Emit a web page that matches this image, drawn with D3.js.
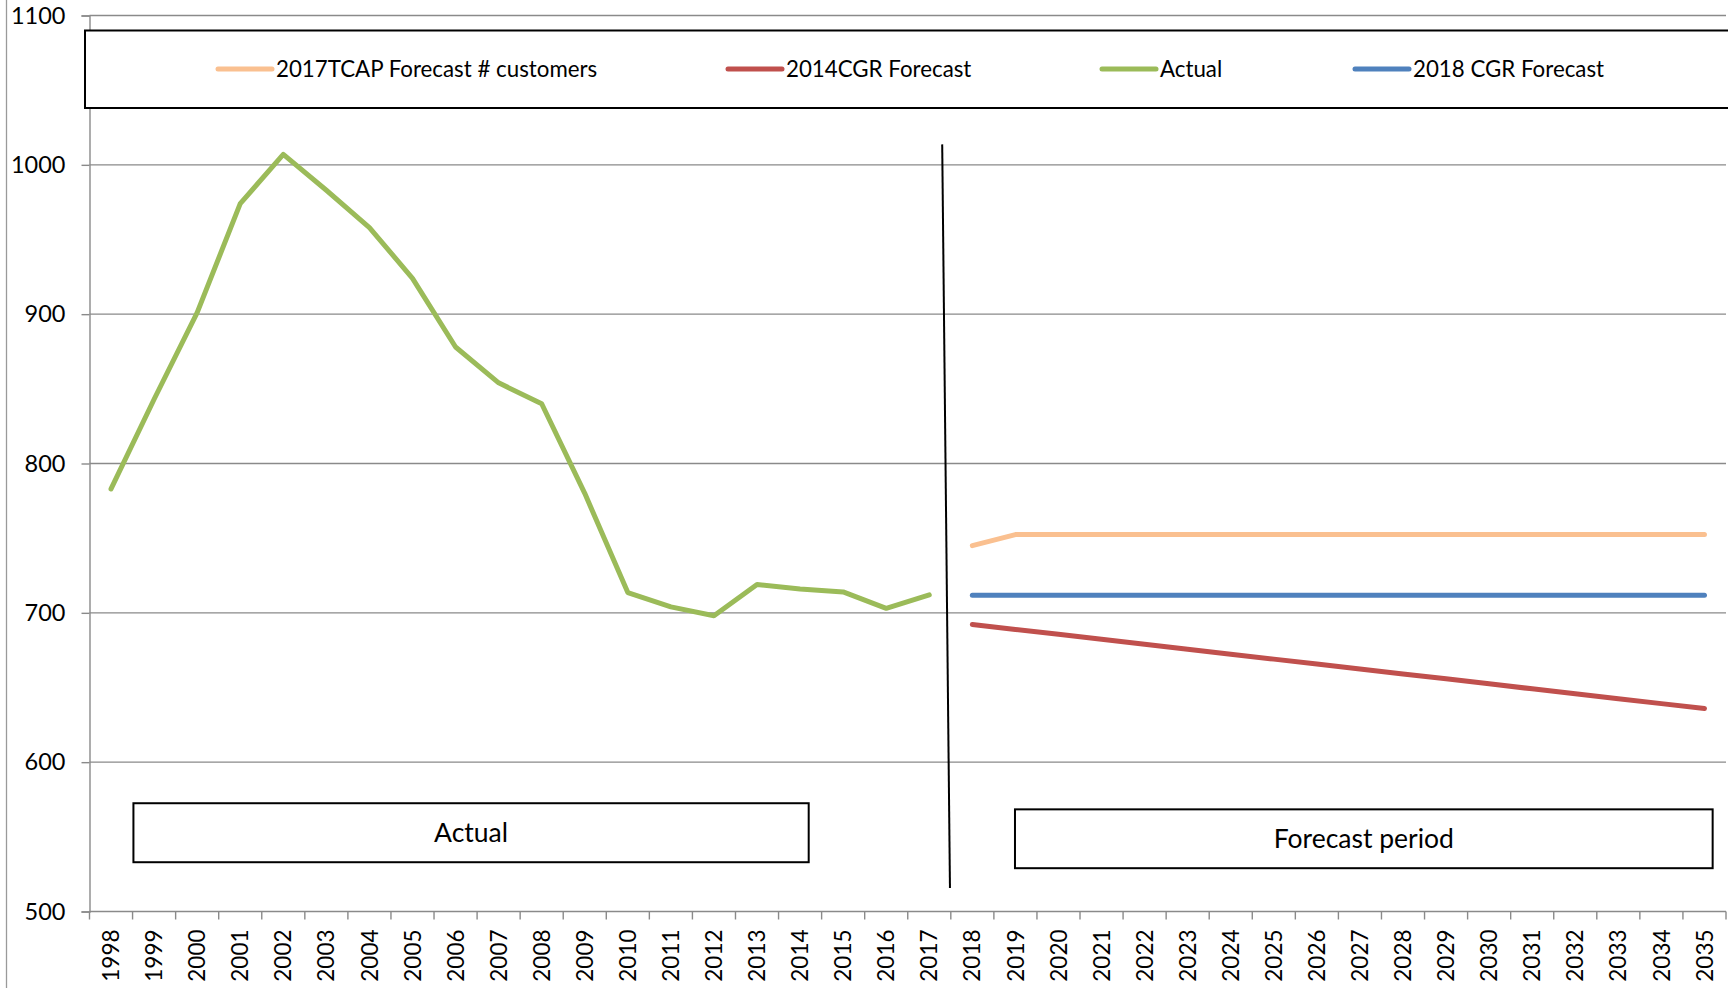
<!DOCTYPE html>
<html>
<head>
<meta charset="utf-8">
<script src="https://cdn.jsdelivr.net/npm/d3@7"></script>
<style>
  html, body { margin: 0; padding: 0; background: #fff; }
  svg { display: block; font-family: Lato, "Open Sans", sans-serif; }
</style>
</head>
<body>
<svg id="chart" width="1728" height="988"></svg>
<script>
// ---------- data ----------
const years = ["1998","1999","2000","2001","2002","2003","2004","2005","2006","2007",
  "2008","2009","2010","2011","2012","2013","2014","2015","2016","2017",
  "2018","2019","2020","2021","2022","2023","2024","2025","2026","2027",
  "2028","2029","2030","2031","2032","2033","2034","2035"];

const actualYears = years.slice(0, 20);
const actualValues = [783, 843, 901, 974, 1007, 983, 958, 924, 878, 854,
  840, 780, 713.6, 704, 698, 719, 716, 714, 703, 712];

const forecastYears = years.slice(20);
const tcap2017Values = [745, 752.4, 752.4, 752.4, 752.4, 752.4, 752.4, 752.4, 752.4,
  752.4, 752.4, 752.4, 752.4, 752.4, 752.4, 752.4, 752.4, 752.4];
const cgr2014Values = [692.2, 688.9, 685.6, 682.3, 679.0, 675.6, 672.3, 669.0, 665.7,
  662.4, 659.1, 655.8, 652.5, 649.1, 645.8, 642.5, 639.2, 635.9];
const cgr2018Values = [711.8, 711.8, 711.8, 711.8, 711.8, 711.8, 711.8, 711.8, 711.8,
  711.8, 711.8, 711.8, 711.8, 711.8, 711.8, 711.8, 711.8, 711.8];

const yTicks = [500, 600, 700, 800, 900, 1000, 1100];

const seriesNames = ["2017TCAP Forecast # customers", "2014CGR Forecast", "Actual", "2018 CGR Forecast"];
const seriesColors = ["#FAC090", "#C0504D", "#9BBB59", "#4F81BD"];

// annotation boxes in data units (category index, value)
const annotationLabels = ["Actual", "Forecast period"];
const annotationX0 = [1.02, 21.49];
const annotationX1 = [16.7, 37.69];
const annotationYTop = [572.5, 568.4];
const annotationYBottom = [533, 529];
// period separator (category index, value)
const separatorIdx = [19.80, 19.98];
const separatorVal = [1013.7, 515.7];

// ---------- layout ----------
const svg = d3.select("#chart");
const plotLeft = 89.5, plotRight = 1726, plotTop = 15.5, plotBottom = 911.5;
const gridColor = "#8a8a8a";

const x = d3.scaleBand().domain(years).range([plotLeft, plotRight]).padding(0);
const xIdx = d3.scaleLinear().domain([0, years.length]).range([plotLeft, plotRight]);
const y = d3.scaleLinear().domain([500, 1100]).range([plotBottom, plotTop]);

// outer left border
svg.append("line").attr("x1", 6.5).attr("x2", 6.5).attr("y1", 0).attr("y2", 988)
  .attr("stroke", "#9a9a9a").attr("stroke-width", 1.3);

// gridlines
svg.append("g").selectAll("line").data(yTicks.filter(d => d !== 500)).join("line")
  .attr("x1", plotLeft).attr("x2", plotRight)
  .attr("y1", d => y(d)).attr("y2", d => y(d))
  .attr("stroke", gridColor).attr("stroke-width", 1.4);

// y axis
const yAxis = d3.axisLeft(y).tickValues(yTicks).tickSize(8).tickPadding(16).tickFormat(d3.format("d"));
const gy = svg.append("g").attr("transform", `translate(${plotLeft},0)`).call(yAxis);
gy.select(".domain").attr("stroke", gridColor).attr("stroke-width", 1.4);
gy.selectAll(".tick line").attr("stroke", gridColor).attr("stroke-width", 1.4);
gy.selectAll(".tick text").attr("font-size", 23.5).attr("font-family", "Lato").attr("fill", "#000");

// x axis: ticks at category boundaries
const gx = svg.append("g").attr("transform", `translate(0,${plotBottom})`);
gx.append("line").attr("x1", plotLeft).attr("x2", plotRight).attr("y1", 0).attr("y2", 0)
  .attr("stroke", gridColor).attr("stroke-width", 1.4);
gx.selectAll("line.tk").data(d3.range(years.length + 1)).join("line").attr("class", "tk")
  .attr("x1", i => xIdx(i)).attr("x2", i => xIdx(i)).attr("y1", 0).attr("y2", 8)
  .attr("stroke", gridColor).attr("stroke-width", 1.4);
gx.selectAll("text").data(years).join("text")
  .attr("transform", d => `translate(${x(d) + x.bandwidth() / 2},${18}) rotate(-90)`)
  .attr("text-anchor", "end").attr("dy", "0.36em")
  .attr("font-size", 22.5).attr("fill", "#000").text(d => d);

// lines
const lineGen = d3.line().x(d => x(d[0]) + x.bandwidth() / 2).y(d => y(d[1]));
const lineData = [
  { vals: d3.zip(forecastYears, tcap2017Values), color: seriesColors[0] },
  { vals: d3.zip(forecastYears, cgr2014Values), color: seriesColors[1] },
  { vals: d3.zip(forecastYears, cgr2018Values), color: seriesColors[3] },
  { vals: d3.zip(actualYears, actualValues), color: seriesColors[2] }
];
svg.append("g").selectAll("path").data(lineData).join("path")
  .attr("d", d => lineGen(d.vals))
  .attr("fill", "none").attr("stroke", d => d.color)
  .attr("stroke-width", 5).attr("stroke-linecap", "round").attr("stroke-linejoin", "round");

// separator line
svg.append("line")
  .attr("x1", xIdx(separatorIdx[0])).attr("y1", y(separatorVal[0]))
  .attr("x2", xIdx(separatorIdx[1])).attr("y2", y(separatorVal[1]))
  .attr("stroke", "#000").attr("stroke-width", 2);

// annotation boxes
const ann = svg.append("g").selectAll("g").data(annotationLabels).join("g");
ann.append("rect")
  .attr("x", (d, i) => xIdx(annotationX0[i]))
  .attr("y", (d, i) => y(annotationYTop[i]))
  .attr("width", (d, i) => xIdx(annotationX1[i]) - xIdx(annotationX0[i]))
  .attr("height", (d, i) => y(annotationYBottom[i]) - y(annotationYTop[i]))
  .attr("fill", "#fff").attr("stroke", "#000").attr("stroke-width", 2);
ann.append("text")
  .attr("x", (d, i) => (xIdx(annotationX0[i]) + xIdx(annotationX1[i])) / 2)
  .attr("y", (d, i) => (y(annotationYTop[i]) + y(annotationYBottom[i])) / 2)
  .attr("text-anchor", "middle").attr("dy", "0.35em")
  .attr("font-size", 26.5).attr("fill", "#000").text(d => d);

// legend
const legendBox = svg.append("g");
legendBox.append("rect").attr("x", 85).attr("y", 30.5).attr("width", 1700).attr("height", 77.5)
  .attr("fill", "#fff").attr("stroke", "#000").attr("stroke-width", 2);
const legendX = [218, 728, 1102, 1355];
const li = legendBox.selectAll("g.li").data(seriesNames).join("g").attr("class", "li")
  .attr("transform", (d, i) => `translate(${legendX[i]},69)`);
li.append("line").attr("x1", 0).attr("x2", 54).attr("y1", 0).attr("y2", 0)
  .attr("stroke", (d, i) => seriesColors[i]).attr("stroke-width", 5).attr("stroke-linecap", "round");
li.append("text").attr("x", 58).attr("dy", "0.35em").attr("font-size", 22.3)
  .attr("fill", "#000").text(d => d);
</script>
</body>
</html>
